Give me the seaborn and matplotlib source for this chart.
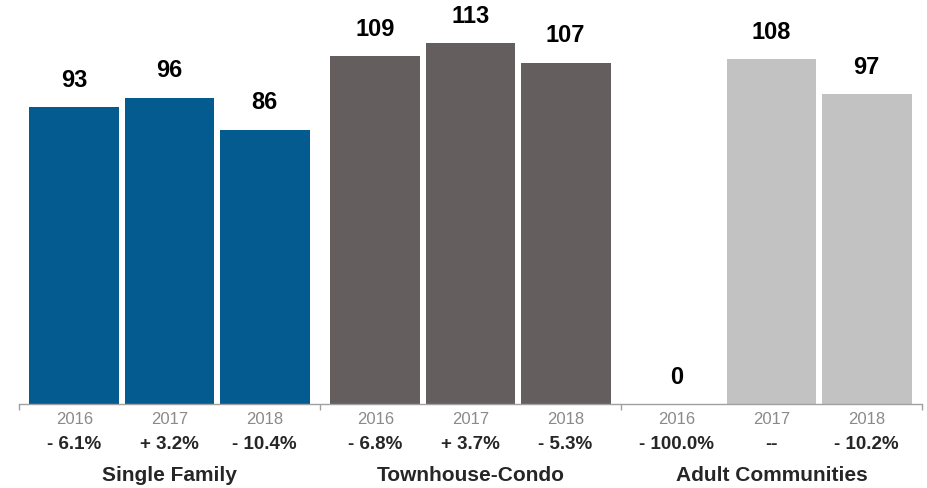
import pandas as pd
import seaborn as sns
import matplotlib.pyplot as plt

# ------------------------------------------------------------------
# dados
# ------------------------------------------------------------------
grupos = ["Single Family", "Townhouse-Condo", "Adult Communities"]
anos = ["2016", "2017", "2018"]
valores_sf = [93, 96, 86]
valores_tc = [109, 113, 107]
valores_ac = [0, 108, 97]
variacao_sf = ["- 6.1%", "+ 3.2%", "- 10.4%"]
variacao_tc = ["- 6.8%", "+ 3.7%", "- 5.3%"]
variacao_ac = ["- 100.0%", "--", "- 10.2%"]

cores = ["#035b8f", "#645e5e", "#c2c2c2"]

df = pd.DataFrame({
    "grupo": [g for g in grupos for _ in anos],
    "ano": anos * 3,
    "valor": valores_sf + valores_tc + valores_ac,
})
variacoes = variacao_sf + variacao_tc + variacao_ac

# ------------------------------------------------------------------
# grafico
# ------------------------------------------------------------------
sns.set_theme(style="white")
plt.rcParams["font.family"] = ["Liberation Sans", "DejaVu Sans"]

fig = plt.figure(figsize=(9.28, 4.88), dpi=100)
ax = fig.add_axes([19 / 928, 84 / 488, 903 / 928, 404 / 488])

sns.barplot(data=df, x="grupo", y="valor", hue="ano", order=grupos,
            hue_order=anos, width=0.947, gap=0.053, legend=False,
            palette=["#888888"] * 3, saturation=1, ax=ax)

# cor por grupo
for p in ax.patches:
    cx = p.get_x() + p.get_width() / 2
    p.set_facecolor(cores[int(round(cx))])
    p.set_edgecolor("none")

for c in ax.containers:
    ax.bar_label(c, fmt="%d", padding=11, fontsize=17, fontweight="bold",
                 color="black")

ax.set_xlim(-0.5, 2.5)
ax.set_ylim(0, 126.6)

# rotulos dos anos e variacoes
barras = sorted(ax.patches, key=lambda p: p.get_x())
xs = [p.get_x() + p.get_width() / 2 for p in barras]
ax.set_xticks(xs)
ax.set_xticklabels(anos * 3, fontsize=12, color="#8a8a8a")
ax.tick_params(axis="x", which="major", length=0, pad=5.5)
ax.set_xticks([-0.5, 0.5, 1.5, 2.5], minor=True)
ax.tick_params(axis="x", which="minor", length=4, width=1, color="#a0a0a0",
               direction="out", bottom=True)
ax.set_yticks([])
ax.set_xlabel("")
ax.set_ylabel("")

for x, txt in zip(xs, variacoes):
    ax.annotate(txt, (x, 0), xycoords=("data", "axes fraction"),
                xytext=(0, -29.5), textcoords="offset points",
                ha="center", va="center", fontsize=13.5, fontweight="bold")

for i, g in enumerate(grupos):
    ax.annotate(g, (i, 0), xycoords=("data", "axes fraction"),
                xytext=(0, -51.5), textcoords="offset points",
                ha="center", va="center", fontsize=15, fontweight="bold")

sns.despine(ax=ax, left=True)
ax.spines["bottom"].set_color("#a0a0a0")
ax.spines["bottom"].set_linewidth(1)

fig.savefig("out.png", dpi=100)
